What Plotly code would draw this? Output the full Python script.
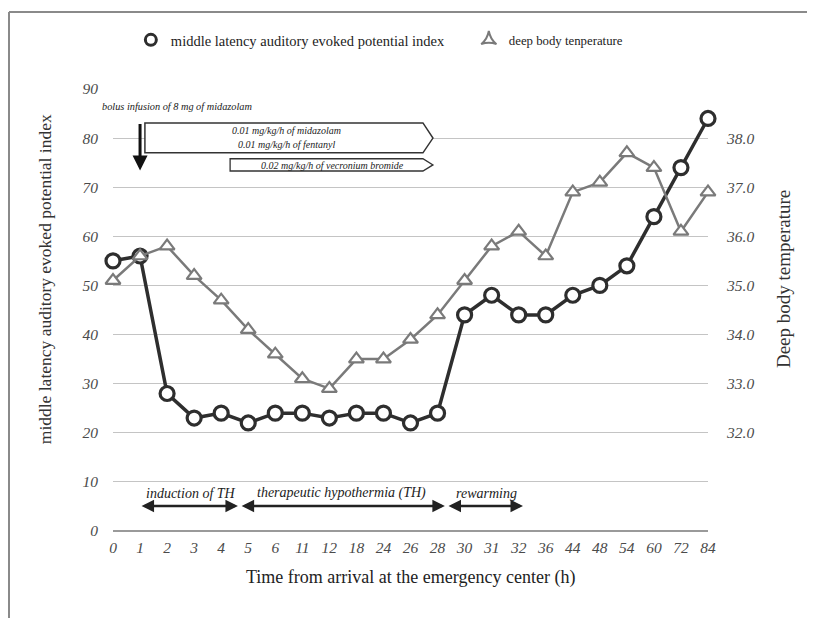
import plotly.graph_objects as go

hours = ["0", "1", "2", "3", "4", "5", "6", "11", "12", "18", "24", "26", "28",
         "30", "31", "32", "36", "44", "48", "54", "60", "72", "84"]
mlaep = [55, 56, 28, 23, 24, 22, 24, 24, 23, 24, 24, 22, 24,
         44, 48, 44, 44, 48, 50, 54, 64, 74, 84]
temperature = [35.1, 35.6, 35.8, 35.2, 34.7, 34.1, 33.6, 33.1, 32.9, 33.5, 33.5, 33.9, 34.4,
               35.1, 35.8, 36.1, 35.6, 36.9, 37.1, 37.7, 37.4, 36.1, 36.9]
left_ticks = [0, 10, 20, 30, 40, 50, 60, 70, 80, 90]
right_ticks = [32.0, 33.0, 34.0, 35.0, 36.0, 37.0, 38.0]

idx = list(range(len(hours)))
SERIF = "Liberation Serif"
DARK = "#2e2e2e"
GRAY = "#7a7a7a"

fig = go.Figure()
fig.add_trace(go.Scatter(
    x=idx, y=temperature, yaxis="y2", mode="lines+markers", showlegend=False,
    line=dict(color=GRAY, width=2.5),
    marker=dict(symbol="triangle-up", size=13, color="white", line=dict(color=GRAY, width=2.2)),
    cliponaxis=False, name="deep body tenperature"))
fig.add_trace(go.Scatter(
    x=idx, y=mlaep, mode="lines+markers", showlegend=False,
    line=dict(color=DARK, width=3.5),
    marker=dict(symbol="circle", size=14, color="white", line=dict(color=DARK, width=3.2)),
    cliponaxis=False, name="middle latency auditory evoked potential index"))

# legend entries (markers only)
fig.add_trace(go.Scatter(x=[None], y=[None], mode="markers", legend="legend",
                         name="middle latency auditory evoked potential index",
                         marker=dict(symbol="circle", size=11, color="white", line=dict(color=DARK, width=3))))
fig.add_trace(go.Scatter(x=[None], y=[None], mode="markers", legend="legend2", name="deep body tenperature",
                         marker=dict(symbol="star-triangle-up", size=11, color="white", line=dict(color=GRAY, width=2))))

tickfont = dict(family=SERIF, size=15.5, color="#4a4a4a", style="italic")

fig.update_layout(
    width=807, height=610,
    margin=dict(l=105, r=107, t=81, b=87),
    paper_bgcolor="white", plot_bgcolor="white",
    font=dict(family=SERIF),
    xaxis=dict(range=[0, 22], tickvals=idx, ticktext=hours, showgrid=False, zeroline=False,
               showline=False, tickfont=tickfont, ticks="", ticklabelstandoff=5),
    yaxis=dict(range=[0, 90], tickvals=left_ticks, showgrid=True, gridcolor="#c4c4c4", gridwidth=1,
               zeroline=True, zerolinecolor="#9a9a9a", zerolinewidth=2, showline=False,
               tickfont=tickfont, ticklabelstandoff=14),
    yaxis2=dict(range=[30, 39], tickvals=right_ticks, ticktext=[f"{v:.1f}" for v in right_ticks],
                overlaying="y", side="right", showgrid=False, zeroline=False, showline=False,
                tickfont=tickfont, ticklabelstandoff=18),
    legend=dict(orientation="h", x=0.03, xanchor="left", y=1.111, yanchor="middle",
                font=dict(family=SERIF, size=14.5, color="#222"), itemwidth=30, bgcolor="rgba(0,0,0,0)"),
    legend2=dict(orientation="h", x=0.598, xanchor="left", y=1.111, yanchor="middle",
                 font=dict(family=SERIF, size=12.8, color="#222"), itemwidth=30, bgcolor="rgba(0,0,0,0)"),
)

annotations = []
# axis titles
annotations.append(dict(text="middle latency auditory evoked potential index", xref="paper", yref="paper",
                        x=-0.114, y=0.570, textangle=-90, showarrow=False,
                        font=dict(family=SERIF, size=17.5, color="#333"), xanchor="center", yanchor="middle"))
annotations.append(dict(text="Deep body temperature", xref="paper", yref="paper",
                        x=1.126, y=0.570, textangle=-90, showarrow=False,
                        font=dict(family=SERIF, size=19, color="#333"), xanchor="center", yanchor="middle"))
annotations.append(dict(text="Time from arrival at the emergency center (h)", xref="paper", yref="paper",
                        x=0.5, y=-0.106, showarrow=False,
                        font=dict(family=SERIF, size=18, color="#222"), xanchor="center", yanchor="middle"))

small = dict(family=SERIF, size=10, color="#222", style="italic")
annotations.append(dict(text="bolus infusion of 8 mg of midazolam", x=-0.022, y=86.4, xref="paper", yref="y",
                        showarrow=False, xanchor="left", yanchor="middle",
                        font=dict(family=SERIF, size=10.3, color="#222", style="italic")))
annotations.append(dict(text="0.01 mg/kg/h of midazolam", x=6.4, y=81.6, xref="x", yref="y",
                        showarrow=False, xanchor="center", yanchor="middle", font=small))
annotations.append(dict(text="0.01 mg/kg/h of fentanyl", x=6.4, y=78.6, xref="x", yref="y",
                        showarrow=False, xanchor="center", yanchor="middle", font=small))
annotations.append(dict(text="0.02 mg/kg/h of vecronium bromide", x=8.1, y=74.5, xref="x", yref="y",
                        showarrow=False, xanchor="center", yanchor="middle", font=small))
# down arrow
annotations.append(dict(x=1, y=73.4, ax=1, ay=83.2, xref="x", yref="y", axref="x", ayref="y",
                        showarrow=True, arrowhead=2, arrowsize=1, arrowwidth=3, arrowcolor="#111", text=""))

# phase arrows
phase_font = dict(family=SERIF, size=14, color="#222", style="italic")
phases = [("induction of TH", 1.0, 4.62), ("therapeutic hypothermia (TH)", 4.7, 12.27), ("rewarming", 12.35, 15.16)]
for label, a, b in phases:
    annotations.append(dict(x=b, y=5.1, ax=a, ay=5.1, xref="x", yref="y", axref="x", ayref="y",
                            showarrow=True, arrowhead=2, arrowside="end+start", arrowsize=1, arrowwidth=2.5,
                            arrowcolor="#222", text=""))
text_pos = [(1.15, "induction of TH"), (5.25, "therapeutic hypothermia (TH)"), (12.6, "rewarming")]
for xpos, label in text_pos:
    annotations.append(dict(text=label, x=xpos, y=7.7, xref="x", yref="y", showarrow=False,
                            xanchor="left", yanchor="middle", font=phase_font))
fig.update_layout(annotations=annotations)

shapes = []
# infusion boxes (pentagon arrows)
shapes.append(dict(type="path", xref="x", yref="y",
                   path="M 1.18,83.1 L 11.46,83.1 L 11.83,80.0 L 11.46,77.0 L 1.18,77.0 Z",
                   line=dict(color="#333", width=1.5), fillcolor="white", layer="above"))
shapes.append(dict(type="path", xref="x", yref="y",
                   path="M 4.33,75.8 L 11.46,75.8 L 11.83,74.55 L 11.46,73.3 L 4.33,73.3 Z",
                   line=dict(color="#333", width=1.3), fillcolor="white", layer="above"))
# image frame
shapes.append(dict(type="line", xref="paper", yref="paper", x0=(9 - 113) / 595, x1=(815 - 113) / 595,
                   y0=(531 - 12) / 442, y1=(531 - 12) / 442, line=dict(color="#8a8a8a", width=2)))
shapes.append(dict(type="line", xref="paper", yref="paper", x0=(9 - 113) / 595, x1=(9 - 113) / 595,
                   y0=(531 - 12) / 442, y1=(531 - 620) / 442, line=dict(color="#8a8a8a", width=2)))
fig.update_layout(shapes=shapes)

fig.write_html("out.html")
